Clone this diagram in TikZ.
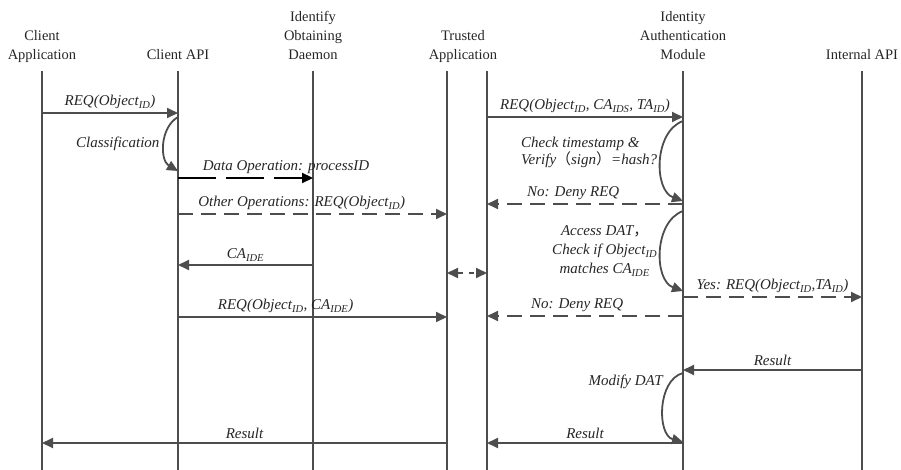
\documentclass[tikz,border=0pt]{standalone}
\usepackage{fontspec}
\setmainfont{Liberation Serif}
\newfontfamily\cjk{Noto Sans CJK SC}
\usetikzlibrary{arrows.meta}
\definecolor{linegray}{HTML}{4D4D4D}
\definecolor{textgray}{HTML}{262626}

\begin{document}
\begin{tikzpicture}[
		x=1pt, y=-1pt,
		>={Triangle[length=11pt,width=10pt]},
		every node/.style={font=\fontsize{14.5}{19}\selectfont, text=textgray},
		head/.style={align=center, anchor=south, inner sep=0pt, text depth=4pt},
		lifeline/.style={draw=linegray, line width=2pt},
		msg/.style={draw=linegray, line width=1.8pt, ->},
		dmsg/.style={msg, dash pattern=on 15pt off 8pt},
		lbl/.style={font=\fontsize{15}{19}\selectfont\itshape, above, inner sep=3pt}
	]
		\useasboundingbox (0,0) rectangle (901,470);

		\node[head] (hca) at (42,64) {Client\\Application};
		\node[head] (hapi) at (178,64) {Client API};
		\node[head] (hiod) at (313,64) {Identify\\Obtaining\\Daemon};
		\node[head] (hta) at (463,64) {Trusted\\Application};
		\node[head] (hiam) at (683,64) {Identity\\Authentication\\Module};
		\node[head] (hiapi) at (862,64) {Internal API};

		\coordinate (ca) at (42,71);
		\coordinate (api) at (178,71);
		\coordinate (iod) at (313,71);
		\coordinate (ta) at (447,71);
		\coordinate (tb) at (487,71);
		\coordinate (iam) at (683,71);
		\coordinate (iapi) at (862,71);

		\foreach \l in {ca,api,iod,ta,tb,iam,iapi}
			\draw[lifeline] (\l) -- (\l |- 0,470);

		\draw[msg] (ca |- 0,113) -- node[lbl] {REQ(Object\textsubscript{ID})} (api |- 0,113);
		\draw[msg] (api |- 0,117) to[bend right=60] node[lbl, left, inner sep=4pt] {Classification} (api |- 0,171);
		\draw[msg, draw=black, line width=2.2pt, dash pattern=on 38pt off 10pt] (api |- 0,178) -- node[lbl, pos=0.8] {Data Operation: processID} (iod |- 0,178);
		\draw[dmsg] (api |- 0,214) -- node[lbl, pos=0.46] {Other Operations: REQ(Object\textsubscript{ID})} (ta |- 0,214);
		\draw[msg] (iod |- 0,265) -- node[lbl] {CA\textsubscript{IDE}} (api |- 0,265);
		\draw[dmsg, <->, dash pattern=on 5pt off 6pt] (ta |- 0,273) -- (tb |- 0,273);
		\draw[msg] (api |- 0,317) -- node[lbl, pos=0.4] {REQ(Object\textsubscript{ID}, CA\textsubscript{IDE})} (ta |- 0,317);

		\draw[msg] (tb |- 0,117) -- node[lbl] {REQ(Object\textsubscript{ID}, CA\textsubscript{IDS}, TA\textsubscript{ID})} (iam |- 0,117);
		\draw[msg] (iam |- 0,121) to[bend right=70] node[lbl, left, align=left, yshift=9pt, font=\fontsize{15}{16}\selectfont\itshape] {Check timestamp \&\\Verify{\cjk （}sign{\cjk ）}=hash?} (iam |- 0,201);
		\draw[dmsg] (iam |- 0,204) -- node[lbl, pos=0.56] {No: Deny REQ} (tb |- 0,204);
		\draw[msg] (iam |- 0,211) to[bend right=70] node[lbl, left, align=center] {Access DAT{\cjk ，}\\Check if Object\textsubscript{ID}\\matches CA\textsubscript{IDE}} (iam |- 0,291);
		\draw[dmsg] (iam |- 0,297) -- node[lbl] {Yes: REQ(Object\textsubscript{ID},TA\textsubscript{ID})} (iapi |- 0,297);
		\draw[dmsg] (iam |- 0,316) -- node[lbl, pos=0.54] {No: Deny REQ} (tb |- 0,316);
		\draw[msg] (iapi |- 0,370) -- node[lbl] {Result} (iam |- 0,370);
		\draw[msg] (iam |- 0,373) to[bend right=75] node[lbl, left, pos=0.2, xshift=-4pt] {Modify DAT} (iam |- 0,442);
		\draw[msg] (iam |- 0,443) -- node[lbl] {Result} (tb |- 0,443);
		\draw[msg] (ta |- 0,443) -- node[lbl] {Result} (ca |- 0,443);
	\end{tikzpicture}
\end{document}
